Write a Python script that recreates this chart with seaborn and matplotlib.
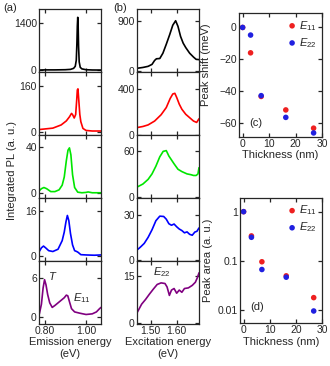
import numpy as np
import pandas as pd
import seaborn as sns
import matplotlib.pyplot as plt
from matplotlib.ticker import NullLocator

sns.set_style("ticks")
plt.rcParams['font.family'] = ['Liberation Sans', 'DejaVu Sans']
plt.rcParams['font.size'] = 7.5
plt.rcParams['mathtext.fontset'] = 'custom'
plt.rcParams['mathtext.rm'] = 'Liberation Sans'
plt.rcParams['mathtext.it'] = 'Liberation Sans:italic'

colors = ["black", "#ff0000", "#00e600", "#0000ff", "#800080"]

# (a) PL emission spectra
em_black_x = [0.773, 0.80, 0.85, 0.90, 0.925, 0.94, 0.948, 0.953, 0.956, 0.958, 0.960, 0.962, 0.964, 0.967, 0.972, 0.98, 1.00, 1.03, 1.072]
em_black_y = [10, 15, 15, 20, 30, 60, 120, 300, 800, 1300, 1560, 1300, 700, 250, 90, 45, 20, 12, 10]
em_red_x = [0.773, 0.80, 0.84, 0.88, 0.905, 0.92, 0.93, 0.935, 0.943, 0.95, 0.955, 0.958, 0.961, 0.965, 0.97, 0.975, 0.985, 1.00, 1.03, 1.072]
em_red_y = [8, 10, 13, 24, 38, 52, 64, 60, 48, 60, 110, 145, 149, 110, 60, 35, 12, 5, 3, 3]
em_green_x = [0.773, 0.785, 0.797, 0.81, 0.83, 0.85, 0.87, 0.885, 0.895, 0.905, 0.913, 0.92, 0.927, 0.935, 0.945, 0.96, 0.98, 1.00, 1.01, 1.03, 1.072]
em_green_y = [2, 4, 5, 4, 1.5, 1.5, 3, 7, 14, 28, 37, 39, 33, 16, 5, 1, 0.5, 0.8, 1.2, 0.5, 0.5]
em_blue_x = [0.773, 0.785, 0.795, 0.805, 0.82, 0.84, 0.865, 0.885, 0.895, 0.903, 0.91, 0.917, 0.925, 0.935, 0.945, 0.955, 0.962, 0.975, 1.00, 1.04, 1.072]
em_blue_y = [1.5, 3, 3.6, 3, 2, 1.7, 2.5, 5.5, 8.5, 12, 14.3, 12.5, 8, 4, 2, 1.7, 1.4, 0.6, 0.5, 0.4, 0.5]
em_purple_x = [0.775, 0.785, 0.793, 0.80, 0.807, 0.815, 0.825, 0.837, 0.85, 0.865, 0.88, 0.895, 0.905, 0.912, 0.92, 0.93, 0.945, 0.97, 1.00, 1.03, 1.05, 1.065, 1.072]
em_purple_y = [0.5, 2.0, 4.5, 5.8, 5.0, 3.5, 2.2, 1.5, 1.8, 2.2, 2.6, 3.0, 3.4, 3.3, 2.4, 1.3, 0.8, 0.6, 0.4, 0.5, 0.8, 1.3, 1.5]

# (b) excitation spectra
ex_black_x = [1.447, 1.47, 1.49, 1.505, 1.515, 1.522, 1.535, 1.547, 1.56, 1.573, 1.585, 1.596, 1.605, 1.615, 1.625, 1.635, 1.65, 1.665, 1.675, 1.686]
ex_black_y = [50, 65, 85, 120, 190, 220, 225, 320, 480, 650, 820, 900, 800, 620, 500, 420, 320, 250, 210, 205]
ex_red_x = [1.447, 1.47, 1.49, 1.515, 1.54, 1.56, 1.575, 1.585, 1.593, 1.60, 1.61, 1.62, 1.635, 1.65, 1.665, 1.677, 1.686]
ex_red_y = [62, 72, 86, 120, 176, 240, 320, 360, 366, 330, 270, 225, 180, 150, 120, 108, 140]
ex_green_x = [1.447, 1.47, 1.49, 1.505, 1.52, 1.535, 1.548, 1.56, 1.57, 1.58, 1.59, 1.605, 1.62, 1.64, 1.655, 1.665, 1.675, 1.682, 1.686]
ex_green_y = [13, 17, 23, 30, 40, 52, 59, 60, 53, 48, 43, 36, 33, 30, 29, 28, 28, 30, 38]
ex_blue_x = [1.447, 1.46, 1.475, 1.49, 1.505, 1.52, 1.535, 1.55, 1.56, 1.57, 1.58, 1.59, 1.60, 1.61, 1.62, 1.63, 1.64, 1.65, 1.66, 1.67, 1.678, 1.686]
ex_blue_y = [6.6, 8.5, 11, 15, 20, 26, 29, 28.8, 27, 24, 23, 23.8, 22, 20.5, 19.5, 18, 18.6, 17, 16.4, 18.5, 19, 21.2]
ex_purple_x = [1.447, 1.465, 1.48, 1.495, 1.51, 1.525, 1.54, 1.555, 1.563, 1.572, 1.58, 1.59, 1.60, 1.61, 1.62, 1.63, 1.645, 1.66, 1.672, 1.68, 1.686]
ex_purple_y = [3.2, 6.0, 7.5, 9.2, 10.8, 12.3, 12.8, 12.6, 11.5, 8.8, 10.5, 11, 9.5, 10.5, 9.8, 11, 11.2, 12, 13, 14.5, 16]

em_yticks = [1400, 160, 40, 16, 6]
em_ylims = [(-50, 1800), (-11, 207), (-4, 50), (-1.6, 20.4), (-1.06, 8.7)]
ex_yticks = [900, 400, 60, 30, 15]
ex_ylims = [(-18, 1107), (-4, 554), (-1, 80), (-0.6, 41), (-0.3, 19.8)]

# (c), (d) thickness dependence
thickness = [0, 3, 7, 16.3, 26.8]
shift_e11 = [0, -16, -43.5, -52, -63.5]
shift_e22 = [0, -4.8, -43, -56.7, -66.5]
area_e11 = [1, 0.32, 0.095, 0.049, 0.0176]
area_e22 = [1, 0.30, 0.066, 0.046, 0.0094]

em_curves = [(em_black_x, em_black_y), (em_red_x, em_red_y), (em_green_x, em_green_y),
             (em_blue_x, em_blue_y), (em_purple_x, em_purple_y)]
ex_curves = [(ex_black_x, ex_black_y), (ex_red_x, ex_red_y), (ex_green_x, ex_green_y),
             (ex_blue_x, ex_blue_y), (ex_purple_x, ex_purple_y)]

fig = plt.figure(figsize=(3.3, 3.66), dpi=100)
gs_a = fig.add_gridspec(5, 1, left=0.118, right=0.306, top=0.975, bottom=0.115, hspace=0)
gs_b = fig.add_gridspec(5, 1, left=0.415, right=0.603, top=0.975, bottom=0.115, hspace=0)

def style(ax):
    for s in ax.spines.values():
        s.set_linewidth(0.9)
    ax.tick_params(direction='in', top=True, right=True, length=3, width=0.9, pad=1.5, labelsize=7.5)

axes_a, axes_b = [], []
for i in range(5):
    ax = fig.add_subplot(gs_a[i])
    x, y = em_curves[i]
    sns.lineplot(x=x, y=y, ax=ax, color=colors[i], lw=1.2)
    ax.set_xlim(0.773, 1.072)
    ax.set_ylim(*em_ylims[i])
    ax.set_yticks([0, em_yticks[i]])
    ax.set_xticks([0.8, 1.0])
    style(ax)
    if i < 4:
        ax.set_xticklabels([])
    else:
        ax.set_xticklabels(["0.80", "1.00"])
        ax.set_xlabel("Emission energy\n(eV)", fontsize=8, labelpad=1)
    axes_a.append(ax)

    ax = fig.add_subplot(gs_b[i])
    x, y = ex_curves[i]
    sns.lineplot(x=x, y=y, ax=ax, color=colors[i], lw=1.2)
    ax.set_xlim(1.447, 1.686)
    ax.set_ylim(*ex_ylims[i])
    ax.set_yticks([0, ex_yticks[i]])
    ax.set_xticks([1.5, 1.6])
    style(ax)
    if i < 4:
        ax.set_xticklabels([])
    else:
        ax.set_xticklabels(["1.50", "1.60"])
        ax.set_xlabel("Excitation energy\n(eV)", fontsize=8, labelpad=1)
    axes_b.append(ax)

axes_a[4].text(0.84, 6.4, "$T$", fontsize=8, ha='center', va='center')
axes_a[4].text(0.935, 3.0, "$E_{11}$", fontsize=8, ha='left', va='center')
axes_b[4].text(1.542, 16.2, "$E_{22}$", fontsize=8, ha='center', va='center')

fig.text(0.036, 0.533, "Integrated PL (a. u.)", rotation=90, ha='center', va='center', fontsize=8)
fig.text(0.01, 0.978, "(a)", fontsize=8, va='center')
fig.text(0.342, 0.978, "(b)", fontsize=8, va='center')

red, blue = "#ee2020", "#2020e0"

ax_c = fig.add_axes([0.724, 0.626, 0.252, 0.338])
sns.scatterplot(x=thickness, y=shift_e11, ax=ax_c, color=red, s=16, edgecolor='none', label="$E_{11}$")
sns.scatterplot(x=thickness, y=shift_e22, ax=ax_c, color=blue, s=16, edgecolor='none', label="$E_{22}$")
ax_c.set_xlim(-1.4, 30)
ax_c.set_ylim(-69, 9)
ax_c.set_xticks([0, 10, 20, 30])
ax_c.set_yticks([0, -20, -40, -60])
ax_c.set_xlabel("Thickness (nm)", fontsize=8, labelpad=1)
ax_c.set_ylabel("Peak shift (meV)", fontsize=8)
ax_c.yaxis.set_label_coords(-0.33, 0.58)
ax_c.text(2.5, -60, "(c)", fontsize=8, va='center')
style(ax_c)
ax_c.legend(loc='upper right', frameon=False, handletextpad=0.0, borderaxespad=0.1,
            labelspacing=0.3, handlelength=1.2, fontsize=8)

ax_d = fig.add_axes([0.727, 0.117, 0.249, 0.342])
sns.scatterplot(x=thickness, y=area_e11, ax=ax_d, color=red, s=16, edgecolor='none', label="$E_{11}$")
sns.scatterplot(x=thickness, y=area_e22, ax=ax_d, color=blue, s=16, edgecolor='none', label="$E_{22}$")
ax_d.set_yscale('log')
ax_d.set_xlim(-1.4, 30)
ax_d.set_ylim(0.0053, 1.9)
ax_d.set_xticks([0, 10, 20, 30])
ax_d.set_yticks([1, 0.1, 0.01])
ax_d.set_yticklabels(["1", "0.1", "0.01"])
ax_d.yaxis.set_minor_locator(NullLocator())
ax_d.set_xlabel("Thickness (nm)", fontsize=8, labelpad=1)
ax_d.set_ylabel("Peak area (a. u.)", fontsize=8)
ax_d.yaxis.set_label_coords(-0.33, 0.5)
ax_d.text(2.5, 0.0115, "(d)", fontsize=8, va='center')
style(ax_d)
ax_d.legend(loc='upper right', frameon=False, handletextpad=0.0, borderaxespad=0.1,
            labelspacing=0.3, handlelength=1.2, fontsize=8)

fig.savefig("out.png", dpi=100)
